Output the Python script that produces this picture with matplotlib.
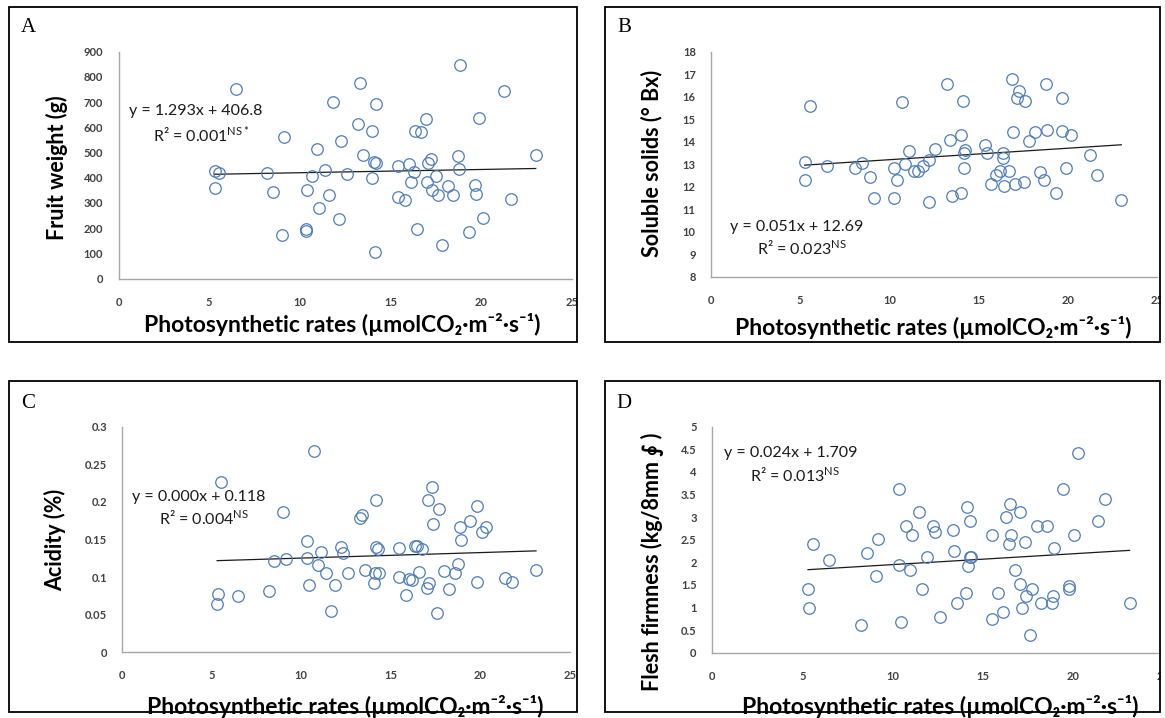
import matplotlib
matplotlib.use("Agg")
import matplotlib.pyplot as plt
from matplotlib.patches import Rectangle
from matplotlib.ticker import FuncFormatter

# Panel A - fruit weight
a_x = [5.3, 5.55, 5.3, 6.45, 8.16, 8.53, 9.0, 9.14, 10.37, 10.33, 10.33, 10.69, 10.96, 11.06, 11.37,
       11.6, 11.8, 12.16, 12.27, 12.57, 13.2, 13.3, 13.5, 14.0, 14.0, 14.08, 14.2, 14.2, 14.16, 15.4,
       15.4, 15.78, 16.0, 16.12, 16.3, 16.37, 16.65, 16.47, 16.94, 17.06, 17.22, 17.0, 17.27, 17.5, 17.63,
       17.84, 18.16, 18.43, 18.7, 18.77, 18.84, 19.33, 19.67, 19.7, 19.9, 20.12, 21.27, 21.63, 23.0]
a_y = [427, 420, 361, 750, 420, 344, 172, 562, 351, 196, 188, 408, 512, 278, 430,
       330, 699, 238, 544, 416, 615, 777, 490, 586, 397, 463, 458, 691, 107, 447,
       322, 312, 454, 384, 422, 586, 581, 196, 634, 457, 476, 381, 351, 406, 333,
       134, 367, 331, 487, 433, 848, 184, 373, 336, 637, 241, 745, 315, 491]

# Panel B - soluble solids
b_x = [5.25, 5.29, 5.54, 6.49, 8.09, 8.44, 8.92, 9.13, 10.27, 10.27, 10.41, 10.68, 10.9, 11.1, 11.37,
       11.58, 11.87, 12.2, 12.24, 12.57, 13.24, 13.38, 13.5, 14.0, 14.0, 14.1, 14.2, 14.25, 14.17, 15.37,
       15.46, 15.7, 16.0, 16.2, 16.35, 16.39, 16.4, 16.7, 16.9, 16.93, 17.05, 17.26, 17.18, 17.6, 17.53,
       17.82, 18.17, 18.44, 18.67, 18.76, 18.82, 19.36, 19.67, 19.67, 19.92, 20.17, 21.27, 21.66, 23.0]
b_y = [13.08, 12.3, 15.6, 12.9, 12.84, 13.07, 12.43, 11.51, 12.84, 11.51, 12.3, 15.75, 13.0, 13.6, 12.7,
       12.7, 12.93, 11.3, 13.2, 13.69, 16.55, 14.09, 11.6, 11.7, 14.3, 15.8, 12.81, 13.63, 13.48, 13.87,
       13.48, 12.1, 12.52, 12.71, 13.48, 13.27, 12.03, 12.7, 16.8, 14.43, 12.1, 16.25, 15.94, 15.82, 12.22,
       14.03, 14.43, 12.64, 12.3, 16.55, 14.5, 11.7, 14.49, 15.94, 12.81, 14.3, 13.42, 12.52, 11.42]

# Panel C - acidity
c_x = [5.34, 5.3, 5.53, 6.48, 8.2, 8.5, 9.0, 9.17, 10.33, 10.33, 10.41, 10.7, 10.93, 11.1, 11.4,
       11.64, 11.86, 12.2, 12.3, 12.63, 13.25, 13.4, 13.58, 14.08, 14.16, 14.12, 14.18, 14.29, 14.33, 15.47,
       15.47, 15.82, 16.0, 16.2, 16.36, 16.48, 16.56, 16.73, 17.0, 17.1, 17.15, 17.3, 17.35, 17.6, 17.68,
       17.95, 18.24, 18.57, 18.76, 18.84, 18.92, 19.4, 19.8, 19.8, 20.06, 20.29, 21.37, 21.76, 23.1]
c_y = [0.0775, 0.064, 0.226, 0.075, 0.082, 0.122, 0.187, 0.124, 0.148, 0.126, 0.09, 0.268, 0.116, 0.133, 0.105,
       0.055, 0.089, 0.14, 0.132, 0.106, 0.179, 0.183, 0.109, 0.092, 0.203, 0.106, 0.14, 0.138, 0.105, 0.139,
       0.1, 0.076, 0.098, 0.096, 0.141, 0.141, 0.107, 0.138, 0.086, 0.203, 0.092, 0.22, 0.17, 0.052, 0.19,
       0.108, 0.084, 0.105, 0.117, 0.167, 0.149, 0.174, 0.195, 0.093, 0.16, 0.167, 0.099, 0.094, 0.11]

# Panel D - flesh firmness
d_x = [5.32, 5.36, 5.59, 6.51, 8.25, 8.58, 9.06, 9.2, 10.37, 10.37, 10.47, 10.72, 10.96, 11.1, 11.44,
       11.64, 11.89, 12.26, 12.34, 12.63, 13.35, 13.41, 13.57, 14.09, 14.1, 14.17, 14.27, 14.35, 14.29, 15.52,
       15.48, 15.83, 16.1, 16.26, 16.43, 16.49, 16.57, 16.76, 17.08, 17.15, 17.06, 17.33, 17.39, 17.62, 17.7,
       17.97, 18.23, 18.56, 18.8, 18.87, 18.95, 19.42, 19.77, 19.79, 20.04, 20.27, 21.38, 21.75, 23.12]
d_y = [1.41, 1.0, 2.41, 2.05, 0.61, 2.21, 1.7, 2.51, 3.62, 1.95, 0.67, 2.81, 1.82, 2.61, 3.11,
       1.42, 2.12, 2.81, 2.66, 0.8, 2.71, 2.26, 1.1, 1.31, 3.22, 1.92, 2.12, 2.12, 2.91, 2.61,
       0.75, 1.31, 0.9, 3.01, 2.41, 3.3, 2.61, 1.82, 1.52, 1.0, 3.11, 2.46, 1.26, 0.39, 1.42,
       2.81, 1.1, 2.81, 1.1, 1.25, 2.31, 3.62, 1.47, 1.41, 2.61, 4.41, 2.91, 3.41, 1.1]

# trendlines (slope, intercept) and labels
fits = {"A": (1.293, 406.8), "B": (0.051, 12.69), "C": (0.00073, 0.118), "D": (0.024, 1.709)}
eq_texts = {"A": ("y = 1.293x + 406.8", "0.001", "NS*"),
            "B": ("y = 0.051x + 12.69", "0.023", "NS"),
            "C": ("y = 0.000x + 0.118", "0.004", "NS"),
            "D": ("y = 0.024x + 1.709", "0.013", "NS")}
y_labels = {"A": "Fruit weight (g)", "B": "Soluble solids (° Bx)",
            "C": "Acidity (%)", "D": "Flesh firmness (kg/8mm \u222e )"}
x_label = "Photosynthetic rates (\u00b5molCO\u2082\u00b7m\u207b\u00b2\u00b7s\u207b\u00b9)"
x_ticks = [0, 5, 10, 15, 20, 25]
y_ticks = {"A": [0, 100, 200, 300, 400, 500, 600, 700, 800, 900],
           "B": [8, 9, 10, 11, 12, 13, 14, 15, 16, 17, 18],
           "C": [0, 0.05, 0.1, 0.15, 0.2, 0.25, 0.3],
           "D": [0, 0.5, 1, 1.5, 2, 2.5, 3, 3.5, 4, 4.5, 5]}

W, H = 1165, 718
plt.rcParams['mathtext.fontset'] = 'custom'
plt.rcParams['mathtext.rm'] = 'Lato'
FAM = ['Lato', 'DejaVu Sans']

fig = plt.figure(figsize=(W / 100, H / 100), dpi=100)

# pixel layout: axes (left, right, top, bottom), border box, letter pos,
# xlabel pos, ylabel pos (axes fraction), equation positions (data)
layout = {
    "A": dict(ax=(118.5, 572, 51.7, 278.5), box=(9, 577, 6.5, 342), letter=(28, 28),
              xl=(0.493, -0.205), yl=(-0.136, 0.49), eq=(0.57, 663), r2=(1.88, 570)),
    "B": dict(ax=(711, 1157, 51.7, 276.7), box=(605, 1160, 6.5, 342), letter=(624, 28),
              xl=(0.498, -0.227), yl=(-0.133, 0.503), eq=(1.09, 10.22), r2=(2.58, 9.26)),
    "C": dict(ax=(122.2, 570, 426.7, 652.3), box=(9, 577, 380.7, 712), letter=(28, 403),
              xl=(0.497, -0.241), yl=(-0.149, 0.498), eq=(0.52, 0.207), r2=(2.03, 0.178)),
    "D": dict(ax=(711.9, 1163.5, 426.7, 652.7), box=(605, 1160, 380.7, 712), letter=(624, 403),
              xl=(0.506, -0.24), yl=(-0.131, 0.403), eq=(0.65, 4.41), r2=(2.13, 3.93)),
}
data = {"A": (a_x, a_y), "B": (b_x, b_y), "C": (c_x, c_y), "D": (d_x, d_y)}

for key in ["A", "B", "C", "D"]:
    lay = layout[key]
    l, r, t, b = lay["ax"]
    ax = fig.add_axes([l / W, 1 - b / H, (r - l) / W, (b - t) / H])
    xs, ys = data[key]
    ax.plot(xs, ys, 'o', ms=8.3, mfc='none', mec='#4F7EBB', mew=0.9, zorder=3)
    k, c0 = fits[key]
    x0, x1 = min(xs), max(xs)
    ax.plot([x0, x1], [k * x0 + c0, k * x1 + c0], color='#1a1a1a', lw=0.9, zorder=2)

    yt = y_ticks[key]
    ax.set_xlim(0, 25)
    ax.set_ylim(yt[0], yt[-1])
    ax.set_xticks(x_ticks)
    ax.set_yticks(yt)
    ax.xaxis.set_major_formatter(FuncFormatter(lambda v, p: f"{v:g}"))
    ax.yaxis.set_major_formatter(FuncFormatter(lambda v, p: f"{v:g}"))
    ax.tick_params(length=0, labelsize=8, labelcolor='#404040')
    ax.tick_params(axis='x', pad=13)
    ax.tick_params(axis='y', pad=11)
    for lab in ax.get_xticklabels() + ax.get_yticklabels():
        lab.set_fontfamily(FAM)
        lab.set_fontweight('bold')
    for s in ['top', 'right']:
        ax.spines[s].set_visible(False)
    for s in ['left', 'bottom']:
        ax.spines[s].set_color('#a6a6a6')
        ax.spines[s].set_linewidth(1.0)
    ax.patch.set_alpha(0)

    ax.set_xlabel(x_label, fontsize=16.5, fontweight='bold', family=FAM)
    ax.xaxis.set_label_coords(*lay["xl"])
    ax.xaxis.label.set_va('center')
    ax.set_ylabel(y_labels[key], fontsize=15.5, fontweight='bold', family=FAM)
    ax.yaxis.set_label_coords(*lay["yl"])
    ax.yaxis.label.set_va('center')

    eq, r2, sig = eq_texts[key]
    ax.text(*lay["eq"], eq, fontsize=11.5, family=FAM, color='#1a1a1a', va='center', ha='left')
    ax.text(*lay["r2"], f"R\u00b2 = {r2}$^{{\\mathregular{{{sig}}}}}$", fontsize=11.5, family=FAM,
            color='#1a1a1a', va='center', ha='left')

    bl, br, bt, bb = lay["box"]
    fig.patches.append(Rectangle((bl / W, 1 - bb / H), (br - bl) / W, (bb - bt) / H,
                                 transform=fig.transFigure, fill=False, ec='black', lw=1.3, zorder=20))
    fig.text(lay["letter"][0] / W, 1 - lay["letter"][1] / H, key, fontsize=15,
             family='Liberation Serif', ha='center', va='center')

# cover the part of the right-hand charts that runs past their frames
fig.patches.append(Rectangle((1161 / W, 0), 1 - 1161 / W, 1, transform=fig.transFigure,
                             fc='white', ec='none', zorder=15))

fig.savefig("out.png", dpi=100)
